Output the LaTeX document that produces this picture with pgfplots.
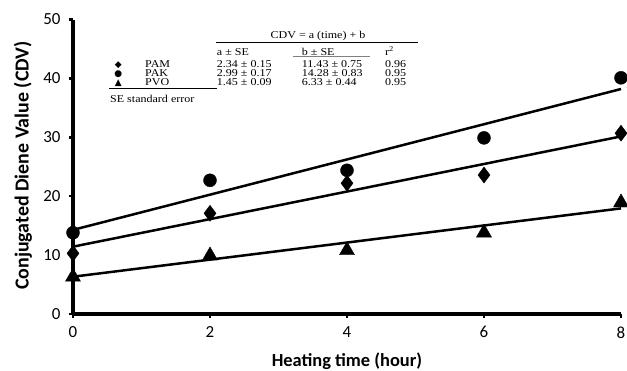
\documentclass[border=0pt]{standalone}
\usepackage{fontspec}
\setmainfont{Carlito}
\newfontfamily\tnr[FakeStretch=1.15]{Liberation Serif}
\newfontfamily\dej{DejaVu Sans}
\usepackage{pgfplots}
\pgfplotsset{compat=1.18}
\begin{document}
\begin{tikzpicture}
\path[use as bounding box] (0bp,0bp) rectangle (627bp,-371bp);
\begin{axis}[
  at={(73bp,-314bp)}, anchor=south west,
  scale only axis, width=548bp, height=294.5bp,
  xmin=0, xmax=8, ymin=0, ymax=50,
  axis x line*=bottom, axis y line*=left,
  axis line style={line width=4bp, black},
  xtick={0,2,4,6,8}, ytick={0,10,20,30,40,50},
  tick align=outside, major tick length=4bp,
  tick style={line width=2.5bp, black},
  ticklabel style={font=\fontsize{17}{17}\selectfont},
  xticklabel style={yshift=-5bp},
  yticklabel style={xshift=-5bp},
  /pgf/number format/assume math mode=true,
  xlabel={\textbf{Heating time (hour)}},
  ylabel={\textbf{Conjugated Diene Value (CDV)}},
  xlabel style={font=\fontsize{18.5}{18.5}\selectfont, at={(rel axis cs:0.5,0)}, anchor=center, yshift=-47bp},
  ylabel style={font=\fontsize{20}{20}\selectfont, at={(rel axis cs:0,0.504)}, anchor=center, yshift=50bp},
  clip=false,
]
% fitted lines
\addplot[black, line width=2.5bp] coordinates {(0,11.43) (8,30.15)};
\addplot[black, line width=2.5bp] coordinates {(0,14.28) (8,38.20)};
\addplot[black, line width=2.5bp] coordinates {(0,6.33) (8,17.93)};
% PAM
\addplot[only marks, black, mark=diamond*, mark size=8bp] coordinates {(0,10.3) (2,17.1) (4,22.2) (6,23.6) (8,30.7)};
% PAK
\addplot[only marks, black, mark=*, mark size=6.5bp] coordinates {(0,13.8) (2,22.7) (4,24.4) (6,29.9) (8,40.1)};
% PVO
\addplot[only marks, black, mark=triangle*, mark size=8.7bp] coordinates {(0,6.3) (2,9.9) (4,10.8) (6,13.8) (8,18.9)};
\end{axis}
% inset table
\begin{scope}[every node/.style={inner sep=0pt, font=\tnr\fontsize{10.5}{11}\selectfont}]
\node[anchor=base] at (318bp,-38.5bp) {CDV = a (time) + b};
\draw[line width=0.8bp] (216bp,-42.7bp) -- (418bp,-42.7bp);
\node[anchor=base west] at (216.7bp,-55bp) {a ± SE};
\node[anchor=base west] at (301.7bp,-55bp) {b ± SE};
\node[anchor=base west] at (385bp,-55bp) {r\textsuperscript{2}};
\draw[gray, line width=0.6bp] (293bp,-56.7bp) -- (370bp,-56.7bp);
\node[anchor=base] at (118.3bp,-67.3bp) {\dej\fontsize{9}{9}\selectfont ◆};
\node[anchor=base west] at (145bp,-67.3bp) {PAM};
\node[anchor=base west] at (216.7bp,-67.3bp) {2.34 ± 0.15};
\node[anchor=base west] at (301.7bp,-67.3bp) {11.43 ± 0.75};
\node[anchor=base west] at (385bp,-67.3bp) {0.96};
\node[anchor=base] at (118.3bp,-76bp) {\dej\fontsize{9}{9}\selectfont ●};
\node[anchor=base west] at (145bp,-76bp) {PAK};
\node[anchor=base west] at (216.7bp,-76bp) {2.99 ± 0.17};
\node[anchor=base west] at (301.7bp,-76bp) {14.28 ± 0.83};
\node[anchor=base west] at (385bp,-76bp) {0.95};
\node[anchor=base] at (118.3bp,-85bp) {\dej\fontsize{9}{9}\selectfont ▲};
\node[anchor=base west] at (145bp,-85bp) {PVO};
\node[anchor=base west] at (216.7bp,-85bp) {1.45 ± 0.09};
\node[anchor=base west] at (301.7bp,-85bp) {6.33 ± 0.44};
\node[anchor=base west] at (385bp,-85bp) {0.95};
\draw[line width=0.8bp] (109.3bp,-88.3bp) -- (216.7bp,-88.3bp);
\node[anchor=base west] at (110bp,-102bp) {SE standard error};
\end{scope}
\end{tikzpicture}
\end{document}
